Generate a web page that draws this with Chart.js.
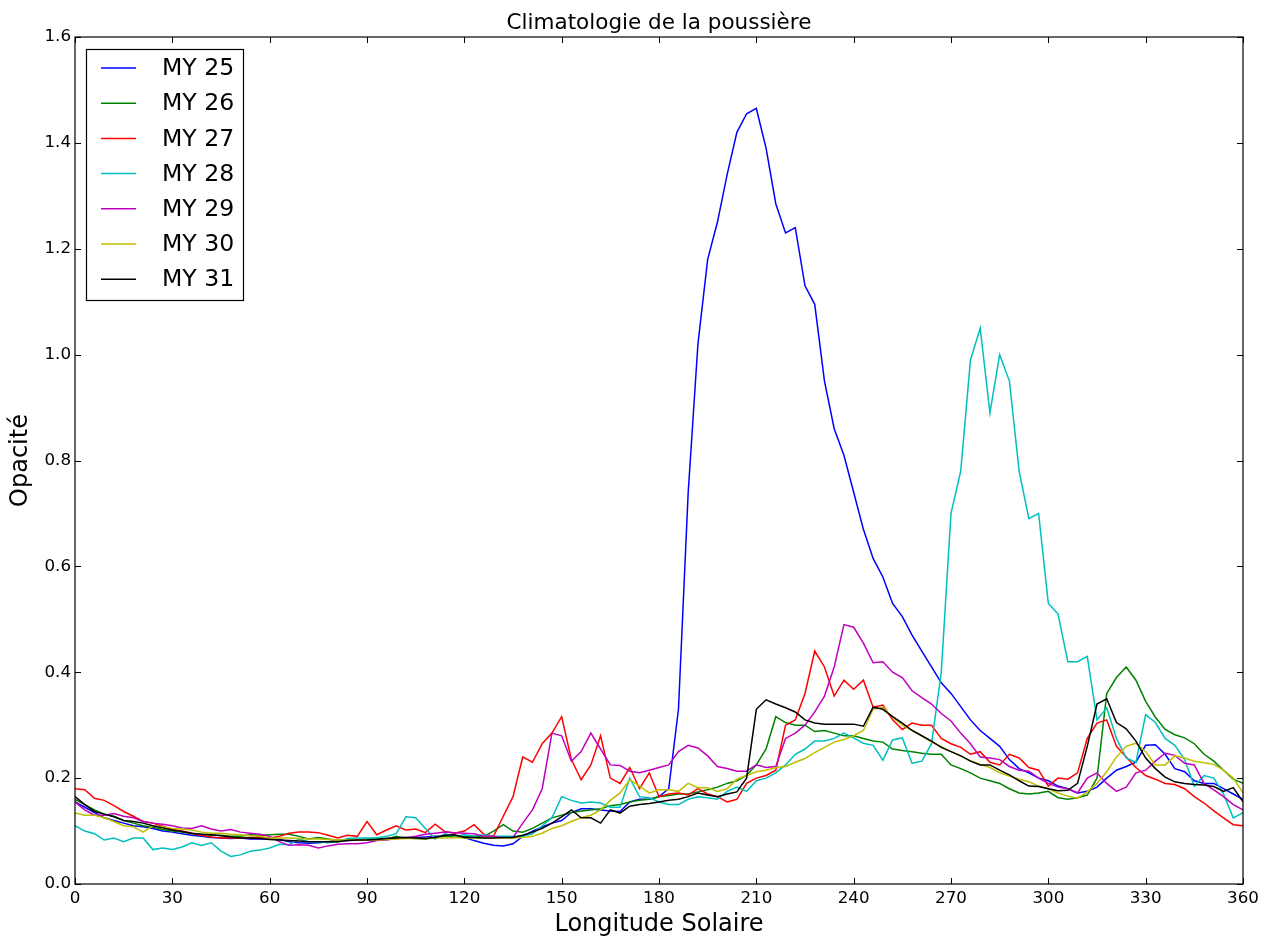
<!DOCTYPE html>
<html><head><meta charset="utf-8">
<script src="https://cdn.jsdelivr.net/npm/chart.js@4.4.0/dist/chart.umd.min.js"></script>
<style>html,body{margin:0;padding:0;background:#fff}#wrap{width:1274px;height:939px;position:relative}</style>
</head><body><div id="wrap"><canvas id="c"></canvas></div>
<script>
const longitudes = [0,3,6,9,12,15,18,21,24,27,30,33,36,39,42,45,48,51,54,57,60,63,66,69,72,75,78,81,84,87,90,93,96,99,102,105,108,111,114,117,120,123,126,129,132,135,138,141,144,147,150,153,156,159,162,165,168,171,174,177,180,183,186,189,192,195,198,201,204,207,210,213,216,219,222,225,228,231,234,237,240,243,246,249,252,255,258,261,264,267,270,273,276,279,282,285,288,291,294,297,300,303,306,309,312,315,318,321,324,327,330,333,336,339,342,345,348,351,354,357,360];

const my25 = [0.155,0.145,0.135,0.125,0.12,0.115,0.11,0.108,0.105,0.10,
0.098,0.095,0.092,0.09,0.088,0.087,0.086,0.087,0.085,0.085,
0.085,0.084,0.08,0.078,0.077,0.078,0.08,0.082,0.082,0.083,
0.084,0.085,0.086,0.087,0.088,0.088,0.089,0.09,0.09,0.09,
0.088,0.082,0.077,0.073,0.072,0.076,0.09,0.10,0.108,0.115,
0.12,0.135,0.142,0.142,0.14,0.138,0.137,0.155,0.16,0.16,
0.165,0.18,0.33,0.74,1.02,1.18,1.25,1.34,1.42,1.455,
1.465,1.39,1.285,1.23,1.24,1.13,1.095,0.95,0.86,0.81,
0.74,0.67,0.615,0.58,0.53,0.505,0.47,0.44,0.41,0.38,
0.36,0.335,0.31,0.29,0.275,0.26,0.235,0.218,0.21,0.2,
0.195,0.185,0.18,0.172,0.175,0.183,0.2,0.215,0.222,0.23,
0.262,0.263,0.245,0.218,0.212,0.195,0.19,0.19,0.18,0.17,
0.16];

const my26 = [0.16,0.15,0.14,0.132,0.128,0.12,0.115,0.11,0.107,0.103,
0.1,0.098,0.095,0.094,0.092,0.092,0.09,0.09,0.093,0.092,
0.093,0.094,0.094,0.09,0.085,0.088,0.085,0.082,0.083,0.083,
0.085,0.087,0.085,0.09,0.087,0.086,0.085,0.088,0.09,0.09,
0.09,0.09,0.09,0.1,0.112,0.1,0.098,0.105,0.115,0.125,
0.13,0.135,0.138,0.14,0.142,0.148,0.15,0.155,0.158,0.16,
0.165,0.167,0.17,0.17,0.174,0.178,0.183,0.19,0.195,0.205,
0.225,0.255,0.316,0.305,0.3,0.3,0.288,0.29,0.285,0.28,
0.28,0.275,0.27,0.268,0.255,0.252,0.25,0.247,0.245,0.245,
0.225,0.218,0.21,0.2,0.195,0.19,0.18,0.172,0.17,0.172,
0.175,0.163,0.16,0.163,0.168,0.2,0.36,0.39,0.41,0.385,
0.345,0.315,0.292,0.282,0.276,0.265,0.245,0.232,0.215,0.198,
0.19];

const my27 = [0.18,0.178,0.162,0.158,0.148,0.137,0.128,0.118,0.115,0.109,
0.103,0.1,0.096,0.092,0.089,0.087,0.087,0.087,0.088,0.089,
0.087,0.09,0.096,0.098,0.098,0.097,0.092,0.087,0.092,0.09,
0.118,0.093,0.102,0.11,0.102,0.104,0.097,0.113,0.099,0.096,
0.1,0.112,0.094,0.09,0.128,0.165,0.24,0.23,0.265,0.285,
0.316,0.235,0.197,0.225,0.28,0.2,0.19,0.22,0.18,0.21,
0.165,0.17,0.172,0.168,0.18,0.17,0.165,0.155,0.16,0.19,
0.2,0.205,0.215,0.3,0.31,0.36,0.44,0.41,0.355,0.385,
0.368,0.385,0.334,0.338,0.31,0.292,0.304,0.3,0.3,0.275,
0.265,0.258,0.245,0.25,0.23,0.225,0.245,0.238,0.22,0.215,
0.185,0.2,0.198,0.21,0.275,0.304,0.31,0.26,0.24,0.22,
0.205,0.198,0.19,0.188,0.18,0.165,0.153,0.138,0.125,0.112,
0.11];

const my28 = [0.11,0.1,0.095,0.083,0.087,0.08,0.087,0.087,0.065,0.068,
0.065,0.07,0.078,0.073,0.078,0.062,0.052,0.055,0.062,0.064,
0.068,0.075,0.074,0.085,0.08,0.08,0.078,0.08,0.086,0.087,
0.087,0.087,0.09,0.095,0.127,0.125,0.105,0.085,0.095,0.09,
0.093,0.09,0.093,0.09,0.09,0.09,0.09,0.095,0.11,0.125,
0.165,0.158,0.153,0.155,0.153,0.145,0.145,0.2,0.165,0.163,
0.155,0.15,0.15,0.16,0.165,0.163,0.16,0.175,0.183,0.175,
0.195,0.2,0.21,0.225,0.245,0.255,0.27,0.27,0.275,0.285,
0.276,0.266,0.262,0.234,0.272,0.276,0.228,0.232,0.265,0.4,
0.7,0.78,0.99,1.05,0.89,1.0,0.95,0.78,0.69,0.7,
0.53,0.51,0.42,0.42,0.43,0.31,0.333,0.275,0.238,0.23,
0.32,0.305,0.275,0.262,0.235,0.185,0.205,0.2,0.17,0.125,
0.135];

const my29 = [0.155,0.14,0.13,0.13,0.133,0.128,0.125,0.118,0.115,0.113,
0.11,0.106,0.105,0.11,0.104,0.1,0.103,0.098,0.096,0.094,
0.09,0.08,0.073,0.074,0.073,0.068,0.072,0.075,0.076,0.076,
0.078,0.082,0.083,0.086,0.087,0.09,0.094,0.096,0.098,0.097,
0.096,0.095,0.09,0.09,0.087,0.088,0.115,0.14,0.18,0.285,
0.28,0.232,0.25,0.285,0.255,0.225,0.224,0.213,0.21,0.215,
0.22,0.225,0.25,0.262,0.257,0.242,0.222,0.218,0.213,0.213,
0.225,0.22,0.222,0.275,0.285,0.3,0.325,0.355,0.41,0.49,
0.485,0.455,0.418,0.42,0.4,0.39,0.365,0.352,0.34,0.322,
0.308,0.285,0.265,0.24,0.238,0.235,0.222,0.215,0.213,0.2,
0.19,0.183,0.18,0.172,0.2,0.21,0.19,0.175,0.183,0.21,
0.215,0.232,0.247,0.243,0.228,0.225,0.19,0.178,0.165,0.15,
0.14];

const my30 = [0.134,0.13,0.13,0.125,0.118,0.11,0.108,0.098,0.11,0.108,
0.105,0.104,0.102,0.098,0.096,0.096,0.094,0.093,0.091,0.09,
0.087,0.087,0.087,0.086,0.085,0.085,0.084,0.083,0.083,0.083,
0.083,0.083,0.084,0.085,0.086,0.086,0.086,0.087,0.087,0.088,
0.087,0.087,0.087,0.087,0.087,0.087,0.088,0.09,0.096,0.105,
0.11,0.118,0.125,0.13,0.14,0.158,0.172,0.197,0.185,0.172,
0.178,0.178,0.175,0.19,0.182,0.182,0.175,0.18,0.198,0.205,
0.212,0.215,0.22,0.222,0.23,0.237,0.248,0.258,0.268,0.273,
0.28,0.29,0.33,0.334,0.315,0.3,0.29,0.28,0.268,0.26,
0.25,0.242,0.233,0.226,0.22,0.21,0.204,0.198,0.193,0.185,
0.18,0.172,0.166,0.162,0.174,0.19,0.212,0.24,0.26,0.266,
0.25,0.225,0.225,0.242,0.238,0.232,0.229,0.226,0.215,0.2,
0.172];

const my31 = [0.165,0.15,0.137,0.132,0.127,0.12,0.118,0.115,0.11,0.106,
0.102,0.099,0.096,0.094,0.093,0.091,0.089,0.087,0.087,0.086,
0.084,0.083,0.082,0.081,0.08,0.08,0.08,0.08,0.082,0.083,
0.083,0.084,0.086,0.087,0.088,0.087,0.086,0.088,0.092,0.093,
0.088,0.088,0.087,0.087,0.088,0.088,0.092,0.098,0.105,0.115,
0.127,0.14,0.125,0.125,0.115,0.14,0.134,0.147,0.15,0.152,
0.155,0.158,0.16,0.165,0.172,0.168,0.165,0.17,0.174,0.2,
0.33,0.348,0.34,0.333,0.325,0.31,0.304,0.302,0.302,0.302,
0.302,0.298,0.334,0.33,0.316,0.304,0.29,0.28,0.27,0.258,
0.25,0.242,0.232,0.225,0.225,0.215,0.206,0.195,0.185,0.184,
0.18,0.176,0.177,0.19,0.26,0.34,0.35,0.305,0.293,0.27,
0.238,0.218,0.202,0.193,0.19,0.188,0.187,0.184,0.175,0.182,
0.155];

const seriesLabels = ['MY 25','MY 26','MY 27','MY 28','MY 29','MY 30','MY 31'];
const seriesValues = [my25, my26, my27, my28, my29, my30, my31];
const seriesColors = ['#0000ff','#008000','#ff0000','#00bfbf','#bf00bf','#bfbf00','#000000'];
const xTickValues = [0,30,60,90,120,150,180,210,240,270,300,330,360];
const yTickValues = [0,0.2,0.4,0.6,0.8,1.0,1.2,1.4,1.6];
const chartTitle = 'Climatologie de la poussière';

const FONT = 'DejaVu Sans';

const datasets = seriesValues.map((vals, i) => ({
  label: seriesLabels[i],
  data: vals.map((v, j) => ({x: longitudes[j], y: v})),
  borderColor: seriesColors[i],
  backgroundColor: seriesColors[i],
  borderWidth: 1.5,
  pointRadius: 0,
  tension: 0,
  fill: false,
  order: seriesValues.length - 1 - i
}));

const framePlugin = {
  id: 'frame',
  afterDatasetsDraw(chart) {
    const {ctx, chartArea: a, scales: {x, y}} = chart;
    ctx.save();
    ctx.strokeStyle = '#000';
    ctx.lineWidth = 1.2;
    ctx.strokeRect(a.left, a.top, a.right - a.left, a.bottom - a.top);
    ctx.beginPath();
    xTickValues.forEach(v => {
      const px = Math.round(x.getPixelForValue(v)) + 0.5;
      ctx.moveTo(px, a.bottom); ctx.lineTo(px, a.bottom - 6);
      ctx.moveTo(px, a.top); ctx.lineTo(px, a.top + 6);
    });
    yTickValues.forEach(v => {
      const py = Math.round(y.getPixelForValue(v)) + 0.5;
      ctx.moveTo(a.left, py); ctx.lineTo(a.left + 6, py);
      ctx.moveTo(a.right, py); ctx.lineTo(a.right - 6, py);
    });
    ctx.lineWidth = 1;
    ctx.stroke();
    // title centred over the plot area
    ctx.fillStyle = '#000';
    ctx.font = '21.5px "' + FONT + '"';
    ctx.textAlign = 'center';
    ctx.textBaseline = 'alphabetic';
    ctx.fillText(chartTitle, (a.left + a.right) / 2, 29);
    ctx.restore();
  }
};

const legendPlugin = {
  id: 'boxLegend',
  afterDraw(chart) {
    const {ctx} = chart;
    const bx = 86, by = 49, bw = 157, bh = 251;
    ctx.save();
    ctx.fillStyle = '#fff';
    ctx.fillRect(bx, by, bw, bh);
    ctx.strokeStyle = '#000';
    ctx.lineWidth = 1.2;
    ctx.strokeRect(bx + 0.5, by + 0.5, bw, bh);
    ctx.font = '23.6px "' + FONT + '"';
    ctx.textBaseline = 'middle';
    ctx.textAlign = 'left';
    chart.data.datasets.forEach((ds, i) => {
      const yy = 68 + i * 35.2;
      ctx.strokeStyle = ds.borderColor;
      ctx.lineWidth = 1.5;
      ctx.beginPath();
      ctx.moveTo(101, yy); ctx.lineTo(136, yy);
      ctx.stroke();
      ctx.fillStyle = '#000';
      ctx.fillText(ds.label, 162, yy + 1);
    });
    ctx.restore();
  }
};

new Chart(document.getElementById('c'), {
  type: 'line',
  data: {datasets},
  options: {
    responsive: true,
    maintainAspectRatio: false,
    animation: false,
    events: [],
    layout: {padding: {top: 37, right: 31, bottom: 0, left: 0}},
    plugins: {
      legend: {display: false},
      tooltip: {enabled: false},
      title: {display: false}
    },
    scales: {
      x: {
        type: 'linear',
        min: 0, max: 360,
        afterFit(s) { s.height = 55; },
        afterBuildTicks(s) { s.ticks = xTickValues.map(v => ({value: v})); },
        grid: {display: false, drawTicks: false},
        border: {display: false},
        ticks: {color: '#000', font: {family: FONT, size: 16.7}, padding: 5, maxRotation: 0, autoSkip: false},
        title: {display: true, text: 'Longitude Solaire', color: '#000', font: {family: FONT, size: 24}, padding: {top: 0, bottom: 0}}
      },
      y: {
        type: 'linear',
        min: 0, max: 1.6,
        afterFit(s) { s.width = 75; },
        afterBuildTicks(s) { s.ticks = yTickValues.map(v => ({value: v})); },
        grid: {display: false, drawTicks: false},
        border: {display: false},
        ticks: {color: '#000', font: {family: FONT, size: 16.7}, padding: 4, autoSkip: false, callback: v => Number(v).toFixed(1)},
        title: {display: true, text: 'Opacité', color: '#000', font: {family: FONT, size: 24}, padding: {top: 6, bottom: 0}}
      }
    }
  },
  plugins: [framePlugin, legendPlugin]
});
</script>
</body></html>
